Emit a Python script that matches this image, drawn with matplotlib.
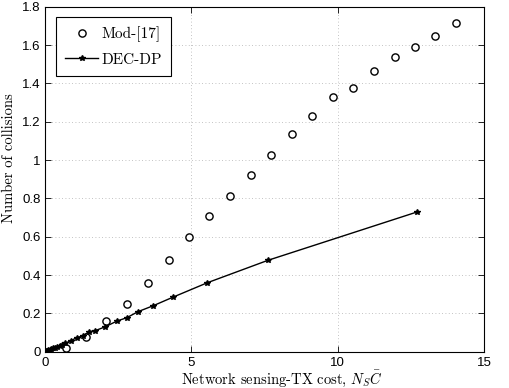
import matplotlib
matplotlib.use('Agg')
import matplotlib.pyplot as plt
from matplotlib.ticker import FormatStrFormatter, FuncFormatter

# Mod-[17] points
mod_x = [0.71, 1.40, 2.09, 2.80, 3.52, 4.23, 4.92, 5.61, 6.32, 7.03,
         7.72, 8.44, 9.13, 9.84, 10.52, 11.23, 11.95, 12.63, 13.32, 14.04]
mod_y = [0.021, 0.078, 0.158, 0.248, 0.360, 0.477, 0.597, 0.706, 0.812, 0.922,
         1.026, 1.135, 1.228, 1.328, 1.376, 1.464, 1.538, 1.592, 1.648, 1.716]

# DEC-DP curve
dec_x = [0.03, 0.07, 0.11, 0.16, 0.21, 0.27, 0.34, 0.42, 0.50, 0.59,
         0.68, 0.88, 1.08, 1.31, 1.50, 1.72, 2.06, 2.46, 2.79, 3.18,
         3.70, 4.38, 5.55, 7.62, 12.71]
dec_y = [0.002, 0.004, 0.007, 0.010, 0.013, 0.017, 0.021, 0.026, 0.031, 0.037,
         0.043, 0.057, 0.073, 0.083, 0.104, 0.110, 0.130, 0.160, 0.177, 0.209,
         0.240, 0.285, 0.360, 0.477, 0.729]

plt.rcParams['mathtext.fontset'] = 'cm'
plt.rcParams['axes.unicode_minus'] = False

fig = plt.figure(figsize=(5.09, 3.88), dpi=100)
ax = fig.add_axes([0.0884, 0.0936, 0.8626, 0.889])

ax.plot(mod_x, mod_y, linestyle='none', marker='o', markersize=5.2,
        markerfacecolor='white', markeredgecolor='black', markeredgewidth=1.0,
        label='Mod-[17]')
ax.plot(dec_x, dec_y, color='black', linewidth=1.0, marker='*', markersize=4.2,
        label='DEC-DP')

ax.set_xlim(0, 15)
ax.set_ylim(0, 1.8)
ax.set_xticks([0, 5, 10, 15])
ax.set_yticks([0, 0.2, 0.4, 0.6, 0.8, 1.0, 1.2, 1.4, 1.6, 1.8])
ax.yaxis.set_major_formatter(FuncFormatter(lambda v, p: '%g' % round(v, 2)))
ax.xaxis.set_major_formatter(FormatStrFormatter('%g'))

tick_font = ['Liberation Sans', 'DejaVu Sans']
for lab in ax.get_xticklabels() + ax.get_yticklabels():
    lab.set_family(tick_font)
    lab.set_fontsize(9.5)

ax.tick_params(direction='in', top=True, right=True, length=4, width=0.6)
ax.tick_params(axis='x', pad=4)
ax.tick_params(axis='y', pad=3)
ax.grid(True, linestyle=(0, (1, 3)), color='#b0b0b0', linewidth=0.6)
for s in ax.spines.values():
    s.set_linewidth(0.8)

ax.set_xlabel(r'Network sensing-TX cost, $N_S\bar{C}$', family='cmr10',
              fontsize=10.5)
ax.xaxis.set_label_coords(0.54, -0.05)
ax.set_ylabel('Number of collisions', family='cmr10', fontsize=10.5)
ax.yaxis.set_label_coords(-0.066, 0.56)

leg = ax.legend(loc='upper left', prop={'family': 'cmr10', 'size': 11},
                fancybox=False, edgecolor='black', framealpha=1,
                borderaxespad=0.7, handlelength=2.2, borderpad=0.6,
                labelspacing=0.7, handletextpad=0.2)
leg.get_frame().set_linewidth(0.8)

fig.savefig('out.png', dpi=100)
